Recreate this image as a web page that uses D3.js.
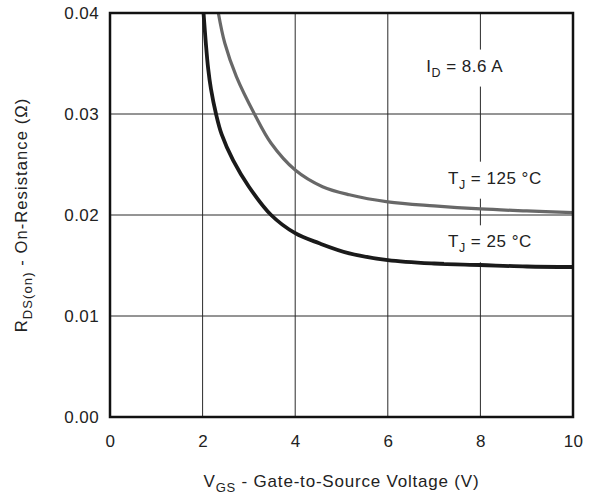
<!DOCTYPE html>
<html>
<head>
<meta charset="utf-8">
<title></title>
<script src="https://d3js.org/d3.v7.min.js"></script>
<style>
  body { margin: 0; background: #fff; }
  text { font-family: "Liberation Sans", Arial, sans-serif; fill: #222; }
</style>
</head>
<body>
<div class="main_div"></div>
<script>
// Data
var xTicks = [0, 2, 4, 6, 8, 10];
var yTicks = [0, 0.01, 0.02, 0.03, 0.04];
var yTickLabels = ["0.00", "0.01", "0.02", "0.03", "0.04"];

// T_J = 25 °C
var vgs25 = [2.02, 2.07, 2.12, 2.18, 2.29, 2.41, 2.66, 3.0, 3.48, 4.0, 4.52, 5.17, 6.0, 7.0, 8.0, 9.0, 10.0];
var r25 =   [0.040, 0.0370, 0.0345, 0.0325, 0.0300, 0.0280, 0.0254, 0.0228, 0.0200, 0.0182, 0.0172, 0.0162, 0.01554, 0.0152, 0.01505, 0.0149, 0.01485];

// T_J = 125 °C
var vgs125 = [2.34, 2.48, 2.73, 3.12, 3.48, 4.0, 4.59, 5.17, 6.0, 7.0, 8.0, 9.0, 10.0];
var r125 =   [0.040, 0.0370, 0.0337, 0.0300, 0.0271, 0.02445, 0.0228, 0.0220, 0.0213, 0.0209, 0.0206, 0.0204, 0.02023];

var W = 593, H = 497;
var m = {left: 110, right: 20, top: 13, bottom: 80};
var w = W - m.left - m.right, h = H - m.top - m.bottom;

var svg = d3.select(".main_div").append("svg").attr("width", W).attr("height", H);
var g = svg.append("g").attr("transform", "translate(" + m.left + "," + m.top + ")");

var x = d3.scaleLinear().domain([0, 10]).range([0, w]);
var y = d3.scaleLinear().domain([0, 0.04]).range([h, 0]);

// grid
var grid = g.append("g");
grid.selectAll(".vg").data(xTicks.slice(1, -1)).enter().append("line")
  .attr("x1", d => x(d)).attr("x2", d => x(d)).attr("y1", 0).attr("y2", h)
  .attr("stroke", "#2a2a2a").attr("stroke-width", 1);
grid.selectAll(".hg").data(yTicks.slice(1, -1)).enter().append("line")
  .attr("y1", d => y(d)).attr("y2", d => y(d)).attr("x1", 0).attr("x2", w)
  .attr("stroke", "#2a2a2a").attr("stroke-width", 1);

// axes (labels only)
var xAxis = d3.axisBottom(x).tickValues(xTicks).tickSize(0).tickPadding(18).tickFormat(d3.format("d"));
var yAxis = d3.axisLeft(y).tickValues(yTicks).tickSize(0).tickPadding(11).tickFormat((d, i) => yTickLabels[i]);
var xg = g.append("g").attr("transform", "translate(0," + h + ")").call(xAxis);
var yg = g.append("g").call(yAxis);
[xg, yg].forEach(function(a) {
  a.select(".domain").remove();
  a.selectAll("text").style("font-size", "17px").style("letter-spacing", "0.4px").attr("fill", "#222")
    .style("font-family", "'Liberation Sans', Arial, sans-serif");
});

// curve labels with white backgrounds
function label(px, py, main, sub, rest) {
  var lg = g.append("g");
  var r = lg.append("rect").attr("fill", "#fff");
  var t = lg.append("text").attr("x", px).attr("y", py)
    .style("font-size", "17px").style("letter-spacing", "0.5px");
  t.append("tspan").text(main);
  t.append("tspan").attr("dy", 5).style("font-size", "12.5px").text(sub);
  t.append("tspan").attr("dy", -5).text(rest);
  var b = t.node().getBBox();
  r.attr("x", b.x - 4).attr("y", b.y - 7).attr("width", b.width + 8).attr("height", b.height + 14);
}

// curves
var line = d3.line().x(d => x(d[0])).y(d => y(d[1])).curve(d3.curveCatmullRom.alpha(0.5));
g.append("path").datum(d3.zip(vgs125, r125)).attr("d", line)
  .attr("fill", "none").attr("stroke", "#686868").attr("stroke-width", 3.2);
g.append("path").datum(d3.zip(vgs25, r25)).attr("d", line)
  .attr("fill", "none").attr("stroke", "#1a1a1a").attr("stroke-width", 3.8);

label(x(6.83), y(0.0342), "I", "D", " = 8.6 A");
label(x(7.3), y(0.0231), "T", "J", " = 125 °C");
label(x(7.3), y(0.0168), "T", "J", " = 25 °C");

// frame
g.append("rect").attr("width", w).attr("height", h).attr("fill", "none")
  .attr("stroke", "#111").attr("stroke-width", 2.5);

// titles
var xt = svg.append("text").attr("x", m.left + w / 2).attr("y", 487)
  .attr("text-anchor", "middle").style("font-size", "17px").style("letter-spacing", "0.8px");
xt.append("tspan").text("V");
xt.append("tspan").attr("dy", 5).style("font-size", "13px").text("GS");
xt.append("tspan").attr("dy", -5).text(" - Gate-to-Source Voltage (V)");

var yt = svg.append("text").attr("transform", "translate(27," + (m.top + h / 2) + ") rotate(-90)")
  .attr("text-anchor", "middle").style("font-size", "16.5px").style("letter-spacing", "1.1px");
yt.append("tspan").text("R");
yt.append("tspan").attr("dy", 5).style("font-size", "13px").text("DS(on)");
yt.append("tspan").attr("dy", -5).text(" - On-Resistance (Ω)");
</script>
</body>
</html>
